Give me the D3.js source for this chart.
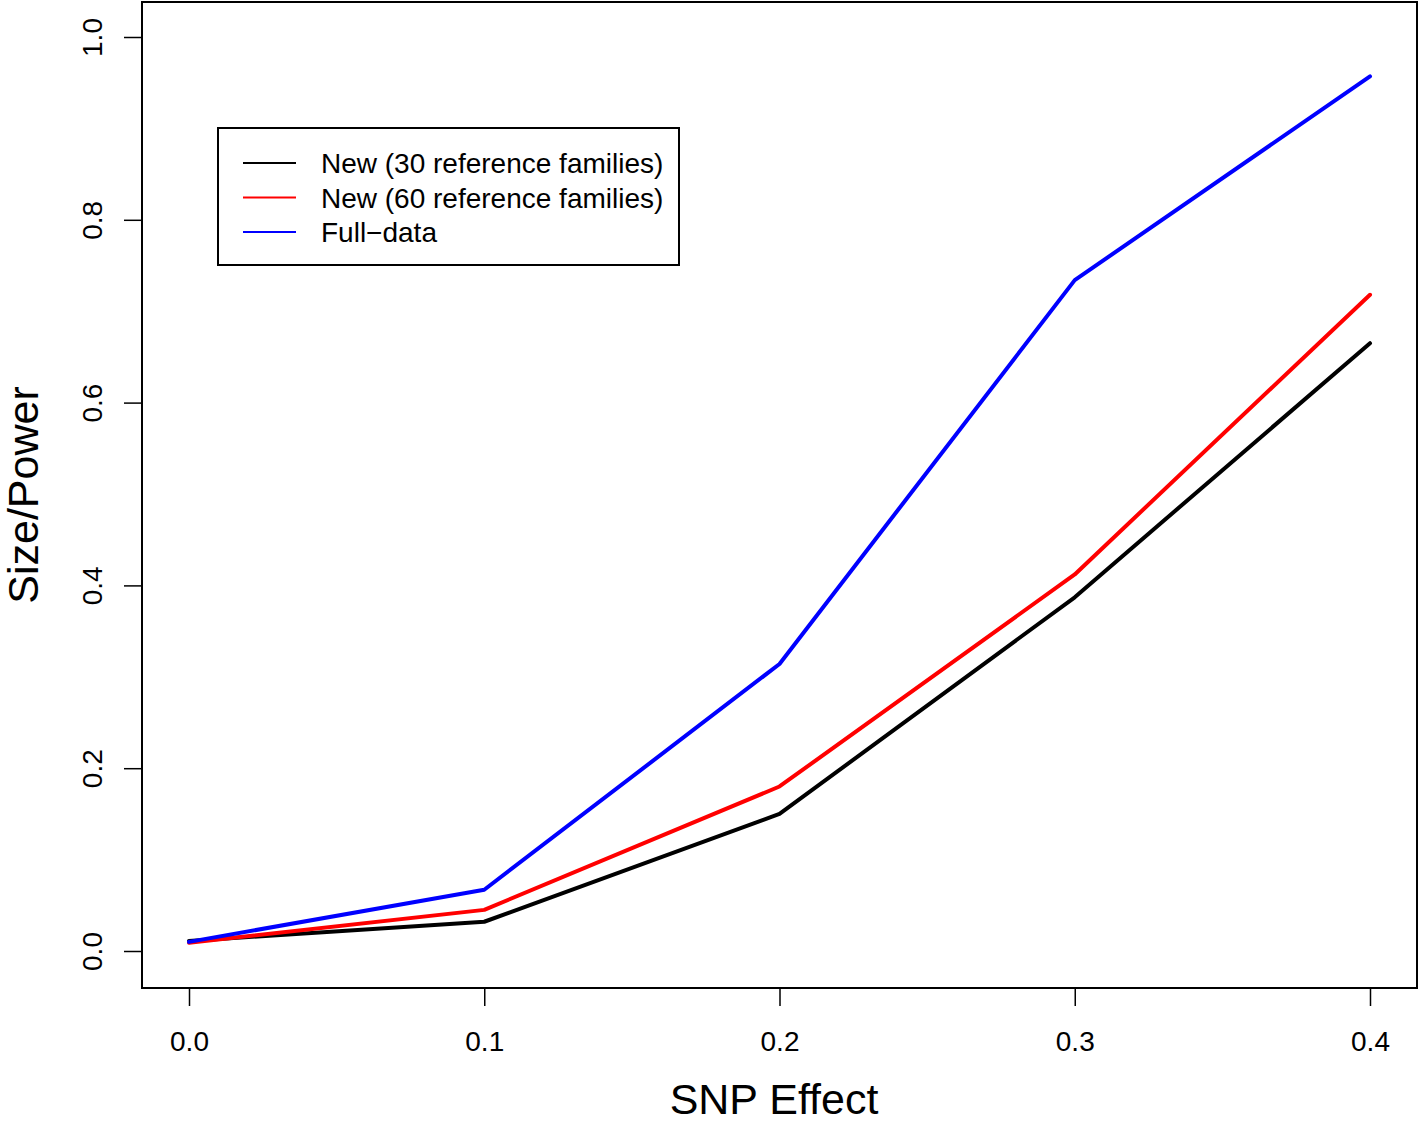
<!DOCTYPE html>
<html><head><meta charset="utf-8">
<script src="https://cdn.jsdelivr.net/npm/d3@7"></script>
<style>body{margin:0;background:#fff}svg{display:block}text{font-family:"Liberation Sans",Arial,Helvetica,sans-serif;fill:#000}</style>
</head><body>
<svg id="c" width="1419" height="1125"></svg>
<script>
const snpEffect = [0.0, 0.1, 0.2, 0.3, 0.4];
const seriesNames = ["New (30 reference families)", "New (60 reference families)", "Full\u2212data"];
const seriesColors = ["#000000", "#ff0000", "#0000ff"];
const new30 = [0.011, 0.032, 0.150, 0.387, 0.665];
const new60 = [0.009, 0.045, 0.180, 0.412, 0.718];
const fullData = [0.010, 0.067, 0.314, 0.734, 0.957];
const xTicks = [0.0, 0.1, 0.2, 0.3, 0.4];
const yTicks = [0.0, 0.2, 0.4, 0.6, 0.8, 1.0];

const svg = d3.select("#c");
const box = {l:142, r:1417, t:2, b:988};
const x = d3.scaleLinear().domain([0, 0.4]).range([189, 1370]);
const y = d3.scaleLinear().domain([0, 1]).range([951, 37]);

// frame
svg.append("rect").attr("x", box.l).attr("y", box.t).attr("width", box.r-box.l).attr("height", box.b-box.t)
  .attr("fill","none").attr("stroke","#000").attr("stroke-width",2);

// x axis
const xa = svg.append("g").attr("transform", `translate(0,${box.b})`)
  .call(d3.axisBottom(x).tickValues(xTicks).tickFormat(d3.format(".1f")).tickSize(18).tickPadding(25));
xa.select(".domain").remove();
xa.selectAll("line").attr("stroke","#000").attr("stroke-width",1.5);
xa.selectAll("text").attr("font-size", 28).attr("font-family", "Liberation Sans, Arial, sans-serif").attr("fill","#000");

// y axis
const ya = svg.append("g").attr("transform", `translate(${box.l},0)`)
  .call(d3.axisLeft(y).tickValues(yTicks).tickFormat(d3.format(".1f")).tickSize(18).tickPadding(0));
ya.select(".domain").remove();
ya.selectAll("line").attr("stroke","#000").attr("stroke-width",1.5);
ya.selectAll("text").attr("font-size", 28).attr("font-family", "Liberation Sans, Arial, sans-serif").attr("fill","#000")
  .attr("text-anchor","middle").attr("dy", null).attr("dominant-baseline","central")
  .attr("x", null)
  .attr("transform", "translate(-50,0) rotate(-90)");

// axis titles
svg.append("text").attr("x", 774).attr("y", 1114).attr("text-anchor","middle").attr("font-size", 43).text("SNP Effect");
svg.append("text").attr("transform","translate(38,495) rotate(-90)").attr("text-anchor","middle").attr("font-size", 43).text("Size/Power");

// lines
const series = [new30, new60, fullData];
const line = d3.line().x((d,i)=>x(snpEffect[i])).y(d=>y(d));
series.forEach((s, k) => {
  svg.append("path").datum(s).attr("d", line).attr("fill","none")
    .attr("stroke", seriesColors[k]).attr("stroke-width", 4).attr("stroke-linejoin","round").attr("stroke-linecap","round");
});

// legend
const lg = svg.append("g");
lg.append("rect").attr("x",218).attr("y",128).attr("width",461).attr("height",137)
  .attr("fill","#fff").attr("stroke","#000").attr("stroke-width",2);
seriesNames.forEach((n,k) => {
  const yy = 163 + k*34.5;
  lg.append("line").attr("x1",243).attr("x2",296).attr("y1",yy).attr("y2",yy).attr("stroke",seriesColors[k]).attr("stroke-width",2);
  lg.append("text").attr("x",321).attr("y",yy).attr("dy","0.36em").attr("font-size",28).text(n);
});
</script>
</body></html>
